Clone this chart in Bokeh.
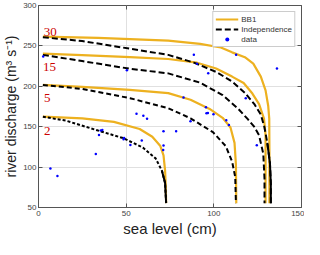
from bokeh.plotting import figure
from bokeh.models import Range1d, FixedTicker, LinearAxis, Legend, LegendItem
from bokeh.embed import file_html
from bokeh.resources import INLINE
from bokeh.core.properties import value

# ---- data ----
x_ticks = [0, 50, 100, 150]
y_ticks = [50, 100, 150, 200, 250, 300]

# BB1 contours (orange)
bb1_2_x = [2.5, 25, 43, 57.7, 64.9, 69.5, 71.3, 72.2, 72.6, 72.8]
bb1_2_y = [162.4, 160.4, 155.9, 147.1, 137.5, 126, 114.6, 95.5, 75, 55.4]
bb1_5_x = [2.5, 24.9, 52, 74, 86.7, 97.6, 105, 109.5, 111.8, 112.6, 112.8]
bb1_5_y = [201.7, 199.4, 195.6, 191.5, 183.4, 172, 161, 149, 130, 103, 55.4]
bb1_15_x = [2.5, 24.9, 52.2, 74, 90.4, 101.3, 110.4, 117, 122, 125.8, 128.6, 129.5, 129.5]
bb1_15_y = [240.5, 238.5, 236, 233.8, 229.2, 222, 212, 204, 191, 178, 160, 140, 55.4]
bb1_30_x = [2.5, 34, 74, 92.2, 104, 110.4, 117.7, 122.5, 126.8, 129.5, 131, 131.6, 131.7, 131.7]
bb1_30_y = [261.5, 259.9, 256.5, 252.5, 248, 242, 236, 228, 212, 195, 176, 160, 120, 55.4]

# Independence contours (black dashed)
ind_2_x = [2.5, 15.8, 34, 48.5, 59.5, 66.8, 70.4, 72.2, 72.8]
ind_2_y = [162.4, 157.4, 145.2, 135.7, 124.2, 110.8, 95.5, 80.2, 55.4]
ind_5_x = [2.5, 24.9, 52.2, 74, 86.7, 99.5, 106.8, 110.4, 112.2, 112.6]
ind_5_y = [201.7, 196.8, 185.3, 172.9, 160.4, 143.2, 126, 107, 87.8, 55.4]
ind_15_x = [2.5, 24.9, 52.2, 74, 92.2, 105, 114, 119.5, 123, 125.8, 128.2, 128.9, 128.9]
ind_15_y = [238.9, 231.2, 221.7, 216, 204.5, 189.1, 172, 159, 150, 139.4, 116.5, 85.9, 55.4]
ind_30_x = [2.5, 24.9, 52.2, 74, 88.6, 101.3, 110.4, 117.7, 123.1, 126.8, 128.8, 130.5, 132, 132.5, 132.5]
ind_30_y = [260.7, 256, 246.5, 238.9, 229.3, 217.8, 206, 192, 178, 165, 150, 130, 105, 80, 55.4]

# observed data
data_x = [2.7, 50.4, 88.6, 112.7, 136, 90.4, 96.8, 82.7, 118.2, 95.5, 95.8, 96.6, 99.8,
          86.7, 107.1, 108.6, 124.5, 78.5, 71.3, 71.3, 71.1, 6.8, 10.8, 32.7, 34.5,
          35.5, 36.4, 48.5, 48.8, 52.4, 58.9, 55.9, 59.8, 61.9]
data_y = [237, 220, 239, 239, 222, 228, 216, 186, 185.3, 174, 166.5, 167, 165.3,
          156.8, 158, 152, 127, 144.4, 144.4, 126.8, 121.1, 98.2, 89, 116.2, 139.7,
          145.2, 146, 134.5, 136, 127.5, 132.9, 166, 163.5, 159.7]

# return period labels
lab_text = ["30", "15", "5", "2"]
lab_x = [3.0, 2.6, 3.1, 3.1]
lab_y = [267.5, 224.0, 185.0, 145.0]

# ---- styles ----
ORANGE = "#EDB120"
FONT = "Liberation Sans"

p = figure(width=304, height=239, output_backend="svg", toolbar_location=None,
           x_range=Range1d(0, 150), y_range=Range1d(50, 300),
           min_border=0, min_border_top=5, min_border_right=3)
p.background_fill_color = "white"
p.border_fill_color = "white"
p.outline_line_color = "#555555"

for ax, ticks in ((p.xaxis[0], x_ticks), (p.yaxis[0], y_ticks)):
    ax.ticker = FixedTicker(ticks=ticks)
    ax.major_label_text_font = FONT
    ax.major_label_text_font_size = "8px"
    ax.major_label_text_color = "#444444"
    ax.major_tick_in = 4
    ax.major_tick_out = 0
    ax.major_tick_line_color = "#555555"
    ax.minor_tick_line_color = None
    ax.axis_line_color = "#555555"
    ax.axis_label_text_font = FONT
    ax.axis_label_text_font_style = "normal"
    ax.axis_label_text_color = "#222222"

p.xaxis.axis_label = "sea level (cm)"
p.xaxis.axis_label_text_font_size = "15px"
p.xaxis.major_label_standoff = 3
p.xaxis.axis_label_standoff = 1
p.yaxis.axis_label = "river discharge (m\u00b3 s\u207b\u00b9)"
p.yaxis.axis_label_text_font_size = "14px"
p.yaxis.major_label_standoff = 2
p.yaxis.axis_label_standoff = 1

# tick marks on the right and top edges (no labels)
for loc, ticks in (("right", y_ticks), ("above", x_ticks)):
    ax = LinearAxis(ticker=FixedTicker(ticks=ticks),
                    major_label_overrides={t: "" for t in ticks},
                    major_tick_in=4, major_tick_out=0, major_tick_line_color="#555555",
                    minor_tick_line_color=None, axis_line_color=None, major_label_standoff=0)
    p.add_layout(ax, loc)

p.xgrid.ticker = FixedTicker(ticks=x_ticks)
p.ygrid.ticker = FixedTicker(ticks=y_ticks)
p.grid.grid_line_color = "#e0e0e0"

# orange BB1 lines
bb1 = []
for xs, ys in ((bb1_2_x, bb1_2_y), (bb1_5_x, bb1_5_y), (bb1_15_x, bb1_15_y), (bb1_30_x, bb1_30_y)):
    bb1.append(p.line(xs, ys, line_color=ORANGE, line_width=2.2))

# black independence lines (the near-vertical lower part of two of them looks solid)
ind = []
for xs, ys, dash, solid_below in ((ind_2_x, ind_2_y, "3 2", 100), (ind_5_x, ind_5_y, "5 3", None),
                                  (ind_15_x, ind_15_y, "6 3", None), (ind_30_x, ind_30_y, "6 3", 140)):
    r = p.line(xs, ys, line_color="black", line_width=2, line_dash=dash)
    ind.append(r)
    if solid_below is not None:
        k = [i for i, y in enumerate(ys) if y <= solid_below]
        if k:
            p.line(xs[k[0]:], ys[k[0]:], line_color="black", line_width=2)

dots = p.scatter(data_x, data_y, size=2.5, marker="circle", fill_color="#0000ff", line_color=None)

p.text(x=lab_x, y=lab_y, text=lab_text, text_font=value("Liberation Serif"),
       text_font_size="13px", text_color="#cc0000", text_baseline="alphabetic")

legend = Legend(items=[LegendItem(label="BB1", renderers=[bb1[0]]),
                       LegendItem(label="Independence", renderers=[ind[3]]),
                       LegendItem(label="data", renderers=[dots])],
                location="top_right", margin=6, padding=2, spacing=0,
                label_height=10, glyph_height=10, glyph_width=23, label_standoff=3,
                label_text_font=FONT, label_text_font_size="8px", label_text_color="#333333",
                border_line_color="#999999", border_line_width=1, background_fill_alpha=1)
p.add_layout(legend, "center")

open("out.html", "w").write(file_html(p, INLINE))
